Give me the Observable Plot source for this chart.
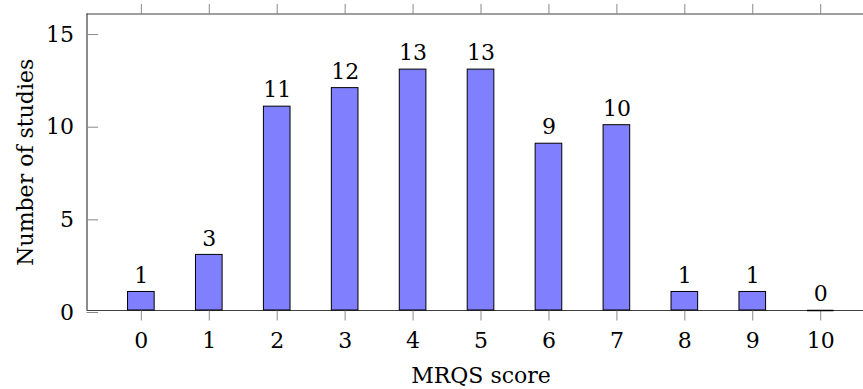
<!DOCTYPE html>
<html>
<head>
<meta charset="utf-8">
<script src="https://cdn.jsdelivr.net/npm/d3@7"></script>
<script src="https://cdn.jsdelivr.net/npm/@observablehq/plot@0.6"></script>
<style>
  html, body { margin: 0; padding: 0; background: white; overflow: hidden; }
</style>
</head>
<body>
<div id="chart"></div>
<script>
const scores = [0, 1, 2, 3, 4, 5, 6, 7, 8, 9, 10];
const studies = [1, 3, 11, 12, 13, 13, 9, 10, 1, 1, 0];
const yTicks = [0, 5, 10, 15];
const xLabel = "MRQS score";
const yLabel = "Number of studies";

const data = scores.map((s, i) => ({score: s, n: studies[i]}));
const half = 0.196;
const xMin = -0.8, xMax = 10.63, yMax = 16;
const axisColor = "#404040";
const tickColor = "#8a8a8a";

const chart = Plot.plot({
  width: 863,
  height: 389,
  marginLeft: 86.5,
  marginRight: 0,
  marginTop: 13.5,
  marginBottom: 79,
  style: {fontFamily: "'DejaVu Serif', serif", fontSize: "22px", background: "white", color: "black"},
  x: {type: "linear", domain: [xMin, xMax], axis: null},
  y: {domain: [0, yMax], axis: null},
  marks: [
    Plot.ruleY([0, yMax], {stroke: axisColor, strokeWidth: 1.2}),
    Plot.ruleX([xMin], {stroke: axisColor, strokeWidth: 1.2}),
    Plot.axisX({anchor: "bottom", ticks: scores, tickSize: 10.5, tickPadding: 10.9, tickFormat: d => String(d), stroke: tickColor, fill: "black", label: null, fontSize: 22}),
    Plot.axisX({anchor: "top", ticks: scores, tickSize: 10.6, tickFormat: () => "", stroke: tickColor, label: null}),
    Plot.axisY({anchor: "left", ticks: yTicks, tickSize: -11.6, tickPadding: 24.6, tickFormat: d => String(d), stroke: tickColor, fill: "black", label: null, dy: 2, fontSize: 22}),
    Plot.rect(data, {x1: d => d.score - half, x2: d => d.score + half, y1: 0, y2: "n", fill: "#8080ff", stroke: "black", strokeWidth: 1}),
    Plot.ruleY(data, {filter: d => d.n === 0, y: "n", x1: d => d.score - half, x2: d => d.score + half, stroke: "black", strokeWidth: 1.5}),
    Plot.text(data, {x: "score", y: "n", text: d => String(d.n), lineAnchor: "middle", dy: -16.3, fill: "black", fontSize: 22}),
    Plot.text([xLabel], {x: d3.mean(scores), frameAnchor: "bottom", text: d => d, textAnchor: "middle", lineAnchor: "middle", dy: 65, fill: "black", fontSize: 22}),
    Plot.text([yLabel], {frameAnchor: "left", text: d => d, rotate: -90, textAnchor: "middle", lineAnchor: "middle", dx: -61, fill: "black", fontSize: 22})
  ]
});
document.getElementById("chart").appendChild(chart);
</script>
</body>
</html>
